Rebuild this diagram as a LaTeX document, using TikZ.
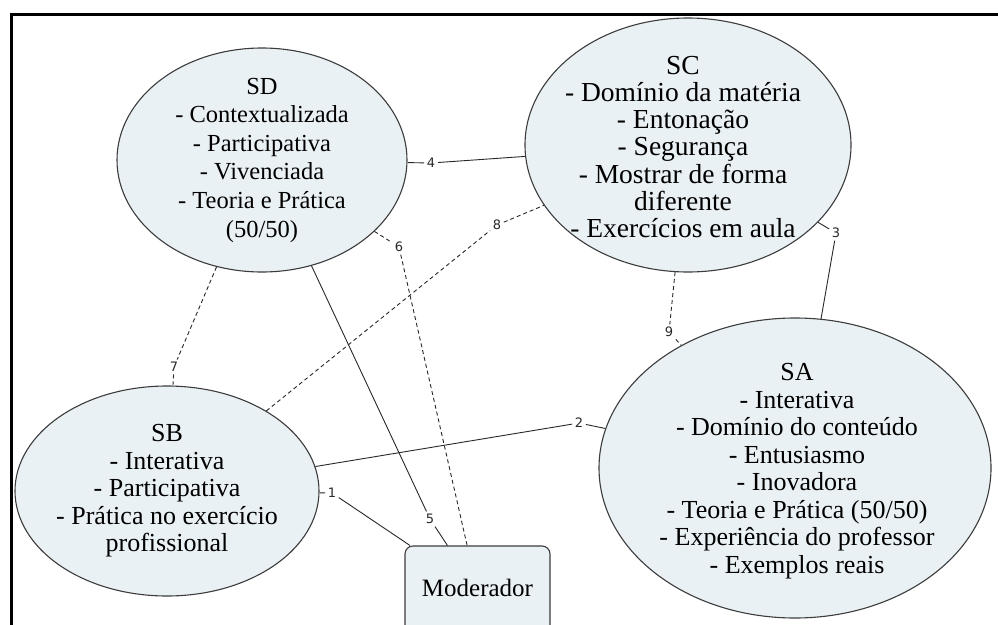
\documentclass[tikz,border=0pt]{standalone}
\usepackage{fontspec}
\setmainfont{Liberation Serif}
\newfontfamily\lblfont{DejaVu Sans}
\usetikzlibrary{shapes.geometric}
\definecolor{ellfill}{RGB}{234,241,244}
\definecolor{ellline}{RGB}{60,60,60}
\definecolor{conncol}{RGB}{40,40,40}
\begin{document}
\begin{tikzpicture}[x=1pt,y=-1pt,
  ell/.style={ellipse, draw=ellline, line width=1.1pt, fill=ellfill, inner sep=0pt},
  txt/.style={align=center, font=\fontsize{26}{27.5}\selectfont, inner sep=0pt, text=black},
  lbl/.style={font=\lblfont\fontsize{13}{15}\selectfont, text=conncol, inner sep=2.5pt},
  conn/.style={draw=conncol, line width=0.9pt},
  dconn/.style={conn, dash pattern=on 4pt off 3pt}]
\useasboundingbox (0,0) rectangle (998,624);
\clip (0,0) rectangle (998,624);
\fill[white] (0,0) rectangle (998,624);
% shapes
\node[ell, minimum width=290pt, minimum height=224pt] (SD) at (262,160) {};
\node[ell, minimum width=326pt, minimum height=254pt] (SC) at (688,145) {};
\node[ell, minimum width=304pt, minimum height=210pt] (SB) at (167,491) {};
\node[ell, minimum width=392pt, minimum height=300pt] (SA) at (795,468) {};
\node[draw=ellline, line width=1.1pt, fill=ellfill, rounded corners=8pt,
      minimum width=145pt, minimum height=90pt, inner sep=0pt] (Mod) at (477.5,591) {};
% texts
\node[txt, font=\fontsize{24.5}{28.6}\selectfont] (SDt) at (262,160)
  {SD\\- Contextualizada\\- Participativa\\- Vivenciada\\- Teoria e Prática\\(50/50)};
\node[txt, font=\fontsize{27.5}{27.2}\selectfont] (SCt) at (683,147)
  {SC\\- Domínio da matéria\\- Entonação\\- Segurança\\- Mostrar de forma\\diferente\\- Exercícios em aula};
\node[txt] (SBt) at (167,491)
  {SB\\- Interativa\\- Participativa\\- Prática no exercício\\profissional};
\node[txt] (SAt) at (797,471)
  {SA\\- Interativa\\- Domínio do conteúdo\\- Entusiasmo\\- Inovadora\\- Teoria e Prática (50/50)\\- Experiência do professor\\- Exemplos reais};
\node[txt, font=\fontsize{25}{27}\selectfont] (ModT) at (477.5,588) {Moderador};
% connector labels
\node[lbl] (l1) at (332,493) {1};
\node[lbl] (l2) at (579,423) {2};
\node[lbl] (l3) at (836,233) {3};
\node[lbl] (l4) at (431,163) {4};
\node[lbl] (l5) at (430,519) {5};
\node[lbl] (l6) at (399,247) {6};
\node[lbl] (l7) at (174,367) {7};
\node[lbl] (l8) at (497,225) {8};
\node[lbl] (l9) at (669,332) {9};
% connectors
\draw[conn] (SB) -- (l1); \draw[conn] (l1) -- (Mod);
\draw[conn] (SB) -- (l2); \draw[conn] (l2) -- (SA);
\draw[conn] (SC) -- (l3); \draw[conn] (l3) -- (SA);
\draw[conn] (SD) -- (l4); \draw[conn] (l4) -- (SC);
\draw[conn] (SD) -- (l5); \draw[conn] (l5) -- (Mod);
\draw[dconn] (SD) -- (l6); \draw[dconn] (l6) -- (Mod);
\draw[dconn] (SD) -- (l7); \draw[dconn] (l7) -- (SB);
\draw[dconn] (SB) -- (l8); \draw[dconn] (l8) -- (SC);
\draw[dconn] (SC) -- (l9); \draw[dconn] (l9) -- (SA);
% frame
\draw[line width=3pt, line cap=rect] (11.5,630) -- (11.5,14.7) -- (1005,14.7);
\end{tikzpicture}
\end{document}
